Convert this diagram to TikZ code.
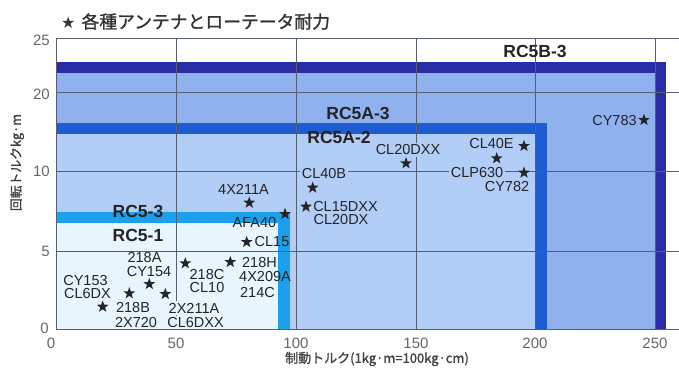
\documentclass[tikz,border=0pt]{standalone}
\usepackage{fontspec}
\setmainfont{Liberation Sans}
\newfontfamily\jp{Noto Sans CJK JP}
\newfontfamily\jpb[FakeBold=1.2]{Noto Sans CJK JP}
\newfontfamily\symf{DejaVu Sans}
\usetikzlibrary{shapes.geometric}
\definecolor{navyb}{RGB}{42,46,166}
\definecolor{cthree}{RGB}{143,178,238}
\definecolor{royalb}{RGB}{30,92,210}
\definecolor{ctwo}{RGB}{178,206,246}
\definecolor{cyanb}{RGB}{28,160,236}
\definecolor{cone}{RGB}{232,245,253}
\definecolor{gridc}{RGB}{85,95,115}
\definecolor{txt}{RGB}{35,35,40}
\begin{document}
\begin{tikzpicture}[x=1pt,y=-1pt,
  lbl/.style={font=\fontsize{14.5}{14.5}\selectfont, text=txt, inner sep=0pt},
  lblf/.style={lbl, inner sep=1.5pt},
  bl/.style={font=\bfseries\fontsize{17.5}{17.5}\selectfont, text=txt, inner sep=0pt},
  tick/.style={font=\fontsize{15}{15}\selectfont, text=black!60, inner sep=0pt},
  st/.style={star, star points=5, star point ratio=2.5, fill=txt, inner sep=0pt, minimum size=12.5pt},
  gridl/.style={draw=gridc, line width=0.7pt}]
\useasboundingbox (0,0) rectangle (679,372);
\fill[white] (0,0) rectangle (679,372);
% regions
\fill[navyb] (56,61.5) rectangle (666,329.5);
\fill[cthree] (56,73) rectangle (655,329.5);
\fill[royalb] (56,122.5) rectangle (547,329.5);
\fill[ctwo] (56,134.3) rectangle (535,329.5);
\fill[cyanb] (56,212.3) rectangle (290,329.5);
\fill[cone] (56,223.3) rectangle (277.7,329.5);
% grid
\foreach \gx in {176,296,416,535,655} \draw[gridl] (\gx,38.3) -- (\gx,329.5);
\foreach \gy in {38.3,92.7,171,251} \draw[gridl] (56,\gy) -- (679,\gy);
\draw[gridl] (56,38.3) -- (56,329.5) -- (679,329.5);
% ticks
\node[tick, anchor=east] (y25) at (50,40) {25};
\node[tick, anchor=east] (y20) at (50,94) {20};
\node[tick, anchor=east] (y10) at (50,171.5) {10};
\node[tick, anchor=east] (y5) at (50,251.5) {5};
\node[tick, anchor=east] (y0) at (49,328) {0};
\node[tick] (x0) at (51,343.5) {0};
\node[tick] (x50) at (176,343.5) {50};
\node[tick] (x100) at (296,343.5) {100};
\node[tick] (x150) at (416,343.5) {150};
\node[tick] (x200) at (535,343.5) {200};
\node[tick] (x250) at (655,343.5) {250};
% titles
\node[anchor=west, inner sep=0pt, text=black!80] (title) at (61,21.5)
  {{\symf\fontsize{16}{16}\selectfont ★}\hspace{6pt}{\jpb\fontsize{17.8}{17.8}\selectfont 各種アンテナとローテータ耐力}};
\node[rotate=90, inner sep=0pt, text=black!75, font=\jpb\fontsize{12.8}{12.8}\selectfont] (ylab) at (17,162.5) {回転トルクkg·m};
\node[inner sep=0pt, text=black!75, font=\jpb\fontsize{13}{13}\selectfont] (xlab) at (377,359) {制動トルク(1kg·m=100kg·cm)};
% series labels
\node[bl] (rc5b3) at (535,51.5) {RC5B-3};
\node[bl] (rc5a3) at (358,113) {RC5A-3};
\node[bl] (rc5a2) at (339,137.5) {RC5A-2};
\node[bl] (rc53) at (138,211) {RC5-3};
\node[bl] (rc51) at (138,235) {RC5-1};
% stars
\node[st] (s1) at (249.3,202.7) {};
\node[st] (s2) at (285,214) {};
\node[st] (s3) at (246.7,242) {};
\node[st] (s4) at (129.3,293.3) {};
\node[st] (s5) at (149.3,284) {};
\node[st] (s6) at (165.3,294) {};
\node[st] (s7) at (102.7,306.7) {};
\node[st] (s8) at (185.3,263.3) {};
\node[st] (s9) at (230.3,262) {};
\node[st] (s10) at (406,163.3) {};
\node[st] (s11) at (312.7,187.7) {};
\node[st] (s12) at (306,206.7) {};
\node[st] (s13) at (644,120) {};
\node[st] (s14) at (524,146) {};
\node[st] (s15) at (496.7,158.3) {};
\node[st] (s16) at (524,172.7) {};
% antenna labels
\node[lbl] (a1) at (243.5,189) {4X211A};
\node[lbl] (a2) at (254.5,223) {AFA40};
\node[lbl] (a3) at (272,242) {CL15};
\node[lbl] (a4) at (144.5,258) {218A};
\node[lbl] (a5) at (149,271.5) {CY154};
\node[lbl] (a6) at (85.5,280.5) {CY153};
\node[lbl] (a7) at (87.5,293.5) {CL6DX};
\node[lbl] (a8) at (133,307.5) {218B};
\node[lbl] (a9) at (136,322.5) {2X720};
\node[lblf, fill=cone] (a10) at (194,308) {2X211A};
\node[lblf, fill=cone] (a11) at (195.5,322.5) {CL6DXX};
\node[lbl] (a12) at (207,274.5) {218C};
\node[lbl] (a13) at (207,288) {CL10};
\node[lbl] (a14) at (259.5,262.5) {218H};
\node[lbl] (a15) at (265,277) {4X209A};
\node[lbl] (a16) at (257.5,292.5) {214C};
\node[lblf, fill=ctwo] (a17) at (408,150) {CL20DXX};
\node[lblf, fill=ctwo] (a18) at (324,173.5) {CL40B};
\node[lbl] (a19) at (345.5,206.5) {CL15DXX};
\node[lbl] (a20) at (341,220) {CL20DX};
\node[lbl] (a21) at (614.5,121) {CY783};
\node[lbl] (a22) at (491.5,144) {CL40E};
\node[lblf, fill=ctwo] (a23) at (477,172.5) {CLP630};
\node[lbl] (a24) at (507,186.5) {CY782};
\end{tikzpicture}
\end{document}
